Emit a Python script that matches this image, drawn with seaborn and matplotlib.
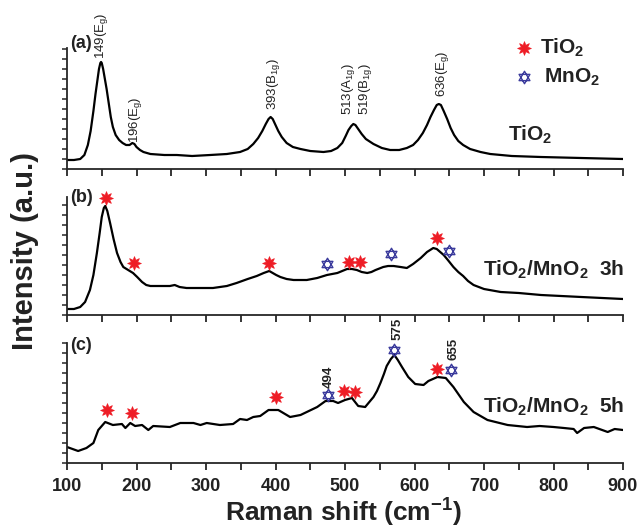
import numpy as np
import pandas as pd
import matplotlib
matplotlib.use("Agg")
import matplotlib.pyplot as plt
import seaborn as sns
from matplotlib.path import Path

# ---------------- data ----------------
# Panel (a): TiO2
a_x = [100, 110, 119, 125, 130, 134, 138, 141, 144, 146, 148, 149, 150, 152, 154, 157,
       160, 163, 166, 170, 175, 180, 185, 190, 194, 197, 200, 205, 210, 220, 240, 258,
       280, 306, 330, 349, 360, 368, 375, 381, 386, 390, 393, 396, 400, 404, 409, 416,
       425, 436, 450, 469, 480, 489, 496, 501, 505, 509, 512, 515, 519, 524, 530, 541,
       553, 565, 578, 589, 598, 605, 612, 618, 623, 628, 632, 635, 638, 642, 647, 652,
       657, 663, 670, 680, 695, 709, 740, 782, 840, 900]
a_y = [9, 9, 10, 14, 24, 38, 58, 75, 90, 100, 106, 107, 106, 100, 92, 80,
       66, 52, 42, 34, 29, 26, 24, 24, 26, 25, 22, 19, 17, 15, 14, 14,
       13, 14, 15, 17, 20, 25, 31, 38, 45, 50, 52, 50, 44, 38, 32, 26,
       22, 20, 18, 17, 18, 21, 26, 33, 39, 43, 45, 44, 40, 35, 30, 25,
       21, 19, 19, 21, 24, 29, 36, 44, 52, 59, 64, 65, 64, 58, 50, 41,
       34, 28, 24, 20, 17, 15, 13, 12, 11, 10]

# Panel (b): TiO2/MnO2 3h
b_x = [100, 110, 119, 126, 133, 138, 143, 147, 150, 153, 155, 158, 162, 167, 172, 177,
       181, 188, 195, 201, 208, 214, 220, 235, 248, 255, 262, 272, 290, 310, 330, 344,
       360, 373, 383, 391, 396, 401, 407, 416, 426, 445, 460, 474, 489, 496, 503, 510,
       517, 524, 532, 538, 544, 555, 562, 570, 580, 589, 598, 609, 618, 627, 632, 637,
       642, 648, 656, 663, 670, 677, 685, 700, 724, 750, 782, 840, 900]
b_y = [6, 6, 8, 13, 25, 40, 62, 82, 98, 107, 109, 104, 92, 76, 62, 53,
       48, 45, 42, 38, 33, 30, 29, 29, 29, 30, 28, 27, 27, 27, 29, 32,
       36, 39, 42, 44, 42, 40, 38, 36, 35, 35, 37, 40, 42, 44, 46, 46,
       45, 43, 42, 43, 45, 48, 49, 49, 48, 47, 51, 57, 63, 67, 66, 63,
       60, 55, 48, 43, 39, 34, 30, 26, 23, 22, 20, 18, 16]

# Panel (c): TiO2/MnO2 5h
c_x = [100, 116, 128, 138, 145, 155, 166, 179, 184, 191, 198, 208, 217, 224, 248, 263,
       282, 292, 301, 320, 339, 349, 359, 368, 378, 390, 404, 421, 436, 445, 460, 472,
       483, 490, 500, 510, 519, 529, 541, 546, 551, 556, 560, 566, 571, 576, 582, 591,
       601, 613, 620, 633, 645, 656, 671, 685, 705, 734, 762, 780, 800, 815, 829, 834,
       844, 858, 870, 878, 888, 900]
c_y = [16, 12, 15, 20, 33, 41, 38, 39, 35, 40, 37, 38, 33, 37, 36, 40,
       40, 38, 40, 38, 39, 44, 43, 46, 47, 53, 53, 46, 48, 51, 56, 62,
       62, 60, 63, 65, 57, 56, 66, 72, 80, 89, 97, 104, 108, 103, 96, 86,
       79, 78, 82, 86, 85, 76, 61, 51, 43, 38, 36, 37, 36, 35, 34, 30,
       35, 36, 33, 31, 34, 33]

# Phase markers
b_tio2_x = [156, 197, 391, 506, 522, 632]
b_tio2_y = [117, 52, 52, 53, 53, 77]
b_mno2_x = [474, 566, 649]
b_mno2_y = [51, 61, 64]
c_tio2_x = [157, 193, 401, 498, 514, 633]
c_tio2_y = [53, 50, 66, 72, 71, 94]
c_mno2_x = [476, 571, 652]
c_mno2_y = [68, 113, 93]

# Peak labels (the 513/519 pair is one two-line label, as in the reference)
a_peak_labels = ["149(E$_g$)", "196(E$_g$)", "393(B$_{1g}$)",
                 "513(A$_{1g}$)\n519(B$_{1g}$)", "636(E$_g$)"]
a_peak_x = [150, 198, 397, 517, 640]
a_peak_y = [110, 26, 59, 54, 72]
c_peak_labels = ["494", "575", "655"]
c_peak_x = [476, 575, 656]
c_peak_y = [75, 123, 103]

x_ticks = [100, 200, 300, 400, 500, 600, 700, 800, 900]
sample_names = ["TiO$_2$", "TiO$_2$/MnO$_2$  3h", "TiO$_2$/MnO$_2$  5h"]
panel_tags = ["(a)", "(b)", "(c)"]
legend_names = ["TiO$_2$", "MnO$_2$"]

# ---------------- style ----------------
sns.set_theme(style="ticks")
plt.rcParams["font.family"] = ["Liberation Sans", "DejaVu Sans"]
plt.rcParams["mathtext.default"] = "regular"

RED = "#ee1c25"
BLUE = "#3a3a9c"
star8 = (8, 1, 0)
tri_up = [(0, 1), (-0.866, -0.5), (0.866, -0.5), (0, 1)]
tri_dn = [(0, -1), (-0.866, 0.5), (0.866, 0.5), (0, -1)]
hexa = Path(tri_up + tri_dn,
            [Path.MOVETO, Path.LINETO, Path.LINETO, Path.CLOSEPOLY] * 2)

W, H = 638, 531
fig = plt.figure(figsize=(W / 100, H / 100), dpi=100)


def add_panel(top, bottom):
    return fig.add_axes([67 / W, 1 - bottom / H, 556 / W, (bottom - top) / H])


panels = [(5, 169, 121), (169, 315, 118), (315, 463, 120)]
axes = []
for top, bottom, sp in panels:
    ax = add_panel(top, bottom)
    ax.set_xlim(100, 900)
    ax.set_ylim(0, bottom - top)
    ax.patch.set_alpha(0)
    for s in ["top", "right"]:
        ax.spines[s].set_visible(False)
    ax.spines["left"].set_bounds(0, sp)
    ax.spines["left"].set_linewidth(1.3)
    ax.spines["bottom"].set_linewidth(1.3)
    ax.set_xticks(x_ticks)
    ax.set_xticks([150, 250, 350, 450, 550, 650, 750, 850], minor=True)
    ax.set_yticks(np.arange(0, sp + 1, 10))
    ax.tick_params(axis="x", which="both", direction="out", length=5, width=1.3)
    ax.tick_params(axis="y", which="both", direction="out", length=3.5, width=1.1,
                   labelleft=False)
    ax.set_xlabel("")
    ax.set_ylabel("")
    axes.append(ax)

axa, axb, axc = axes
for ax in (axa, axb):
    ax.tick_params(axis="x", labelbottom=False)
axc.tick_params(axis="x", labelsize=13, pad=6)
for lab in axc.get_xticklabels():
    lab.set_fontweight("bold")
    lab.set_color("#222222")

# curves
for ax, xs, ys in ((axa, a_x, a_y), (axb, b_x, b_y), (axc, c_x, c_y)):
    df = pd.DataFrame({"x": xs, "y": ys})
    sns.lineplot(data=df, x="x", y="y", ax=ax, color="black", linewidth=1.6,
                 sort=False, estimator=None)
    ax.set_xlabel("")
    ax.set_ylabel("")

# markers
for ax, tx, ty, mx, my in ((axb, b_tio2_x, b_tio2_y, b_mno2_x, b_mno2_y),
                           (axc, c_tio2_x, c_tio2_y, c_mno2_x, c_mno2_y)):
    ax.plot(tx, ty, linestyle="none", marker=star8, markersize=10,
            color=RED, markeredgewidth=0.5)
    ax.plot(mx, my, linestyle="none", marker=hexa, markersize=9,
            markerfacecolor="none", markeredgecolor=BLUE, markeredgewidth=1.0)

# peak labels
for lab, px, py in zip(a_peak_labels, a_peak_x, a_peak_y):
    axa.text(px, py, lab, rotation=90, ha="center", va="bottom", fontsize=9.5,
             color="#222222", linespacing=1.0, multialignment="left")
for lab, px, py in zip(c_peak_labels, c_peak_x, c_peak_y):
    axc.text(px, py, lab, rotation=90, ha="center", va="bottom", fontsize=9.5,
             fontweight="bold", color="#222222")

# panel tags
for ax, tag, ty in zip(axes, panel_tags, [125, 118, 118]):
    ax.text(104, ty, tag, ha="left", va="center", fontsize=13, fontweight="bold",
            color="#222222")

# sample names
axa.text(735, 34, sample_names[0], ha="left", va="center", fontsize=15,
         fontweight="bold", color="#222222")
axb.text(699, 45, sample_names[1], ha="left", va="center", fontsize=15,
         fontweight="bold", color="#222222")
axc.text(699, 56, sample_names[2], ha="left", va="center", fontsize=15,
         fontweight="bold", color="#222222")

# legend (drawn in panel a)
axa.plot([757], [121], linestyle="none", marker=star8, markersize=10, color=RED,
         markeredgewidth=0.5)
axa.plot([758], [92], linestyle="none", marker=hexa, markersize=9,
         markerfacecolor="none", markeredgecolor=BLUE, markeredgewidth=1.0)
axa.text(781, 121, legend_names[0], ha="left", va="center", fontsize=15,
         fontweight="bold", color="#222222")
axa.text(787, 92, legend_names[1], ha="left", va="center", fontsize=15,
         fontweight="bold", color="#222222")

# axis titles
fig.text(25 / W, 1 - 251 / H, "Intensity (a.u.)", rotation=90, ha="center",
         va="center", fontsize=21, fontweight="bold", color="#222222")
fig.text(343 / W, 1 - 513 / H, "Raman shift (cm$^{-1}$)", ha="center", va="center",
         fontsize=19, fontweight="bold", color="#222222")

fig.savefig("out.png", dpi=100)
